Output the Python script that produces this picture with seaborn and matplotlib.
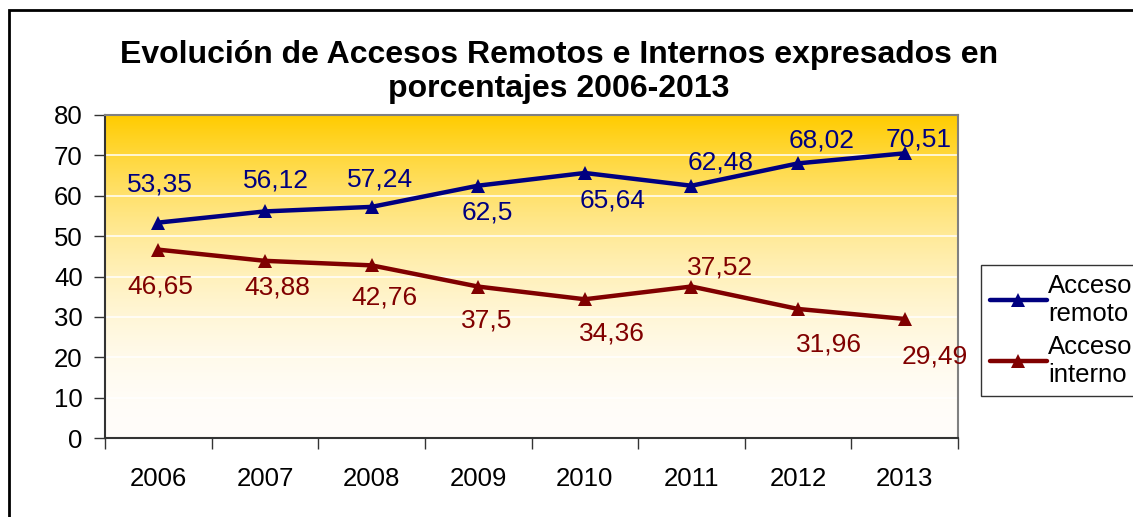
import numpy as np
import pandas as pd
import matplotlib
matplotlib.use("Agg")
import matplotlib.pyplot as plt
from matplotlib.patches import Rectangle
from matplotlib.lines import Line2D
import seaborn as sns

years = ["2006", "2007", "2008", "2009", "2010", "2011", "2012", "2013"]
remoto = [53.35, 56.12, 57.24, 62.5, 65.64, 62.48, 68.02, 70.51]
interno = [46.65, 43.88, 42.76, 37.5, 34.36, 37.52, 31.96, 29.49]
series_names = ["Acceso\nremoto", "Acceso\ninterno"]

# label offsets in pixels (dx, dy), dy positive = up
remoto_off = [(2, 38), (11, 31), (8, 27), (9, -27), (28, -28), (29, 23), (24, 23), (14, 14)]
interno_off = [(2, -37), (12, -27), (13, -32), (8, -34), (27, -34), (29, 19), (31, -36), (30, -38)]

BLUE = "#000080"
RED = "#800000"

sns.set_theme(style="white")
plt.rcParams["font.family"] = ["Liberation Sans", "DejaVu Sans"]
plt.rcParams["text.color"] = "black"
plt.rcParams["xtick.color"] = "black"
plt.rcParams["ytick.color"] = "black"

W, H = 1133, 517
fig = plt.figure(figsize=(W / 100, H / 100), dpi=100)
ax = fig.add_axes([105 / W, 1 - 438 / H, (958 - 105) / W, (438 - 115) / H])

df = pd.DataFrame({
    "pos": list(range(len(years))) * 2,
    "valor": remoto + interno,
    "serie": [series_names[0]] * len(years) + [series_names[1]] * len(years),
})

sns.lineplot(data=df, x="pos", y="valor", hue="serie",
             palette={series_names[0]: BLUE, series_names[1]: RED},
             marker="^", markersize=10.5, markeredgewidth=0, linewidth=3.2,
             legend=False, ax=ax, zorder=5)

ax.set_xlim(-0.5, len(years) - 0.5)
ax.set_ylim(0, 80)

# gradient background
t = np.linspace(0, 1, 256)[:, None]
f = t ** 2
gold = np.array([255, 204, 0]) / 255
white = np.array([255, 253, 250]) / 255
grad = white + (gold - white) * f[..., None]
grad = np.repeat(grad, 2, axis=1)
ax.imshow(grad, extent=[-0.5, len(years) - 0.5, 0, 80], origin="lower",
          aspect="auto", zorder=0)

for yv in range(10, 80, 10):
    ax.axhline(yv, color="white", lw=1.2, zorder=1, alpha=0.9)

ax.set_yticks(range(0, 81, 10))
ax.set_xticks(np.arange(-0.5, len(years), 1))
ax.set_xticklabels([])
ax.set_xticks(range(len(years)), minor=True)
ax.set_xticklabels(years, minor=True)
ax.tick_params(axis="x", which="minor", length=0, pad=21, labelsize=18.5)
ax.tick_params(axis="x", which="major", length=8, width=1, color="#333333", direction="out", bottom=True)
ax.tick_params(axis="y", length=8, width=1, color="#333333", direction="out", left=True, labelsize=18.5, pad=8)
ax.set_xlabel("")
ax.set_ylabel("")

for s in ["top", "right"]:
    ax.spines[s].set_color("#808080")
    ax.spines[s].set_linewidth(1.5)
for s in ["left", "bottom"]:
    ax.spines[s].set_color("#333333")
    ax.spines[s].set_linewidth(1.5)

for i, v in enumerate(remoto):
    dx, dy = remoto_off[i]
    ax.annotate(f"{v:g}".replace(".", ","), (i, v), xytext=(dx * 0.72, dy * 0.72),
                textcoords="offset points", ha="center", va="center",
                color=BLUE, fontsize=19, zorder=6)
for i, v in enumerate(interno):
    dx, dy = interno_off[i]
    ax.annotate(f"{v:g}".replace(".", ","), (i, v), xytext=(dx * 0.72, dy * 0.72),
                textcoords="offset points", ha="center", va="center",
                color=RED, fontsize=19, zorder=6)

fig.text(559 / W, 1 - 72 / H, "Evolución de Accesos Remotos e Internos expresados en\nporcentajes 2006-2013",
         ha="center", va="center", fontsize=23, fontweight="bold", linespacing=1.2)

# legend
handles = [Line2D([], [], color=BLUE, lw=3.2, marker="^", markersize=10.5, markeredgewidth=0),
           Line2D([], [], color=RED, lw=3.2, marker="^", markersize=10.5, markeredgewidth=0)]
leg = fig.legend(handles, series_names, loc="upper left",
                 bbox_to_anchor=(981 / W, 1 - 265 / H), fontsize=18.5,
                 frameon=True, fancybox=False, edgecolor="black",
                 handlelength=2.2, handletextpad=0.05, borderpad=0.35,
                 labelspacing=0.35, borderaxespad=0)
leg.get_frame().set_linewidth(1)

# outer chart border
fig.patches.append(Rectangle((9 / W, -0.1), 1.2, 1 - 10 / H + 0.1,
                             transform=fig.transFigure, fill=False,
                             edgecolor="black", lw=2))

fig.savefig("out.png", dpi=100)
